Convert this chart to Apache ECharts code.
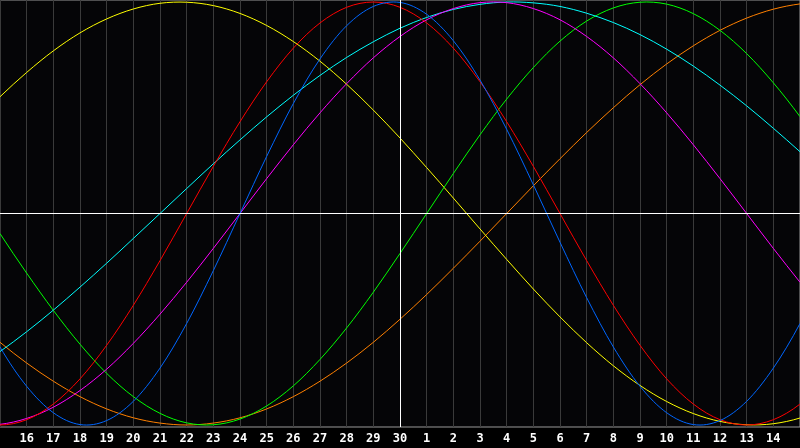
<!DOCTYPE html>
<html>
<head>
<meta charset="utf-8">
<script src="https://cdn.jsdelivr.net/npm/echarts@6/dist/echarts.min.js"></script>
<style>
html,body{margin:0;padding:0;background:#000;}
#chart{width:800px;height:448px;}
</style>
</head>
<body>
<div id="chart"></div>
<script>
// one sample per day, day positions 0..30
const dayLabels = ['16','17','18','19','20','21','22','23','24','25','26','27','28','29','30',
  '1','2','3','4','5','6','7','8','9','10','11','12','13','14'];

const physical     = [-63.1,-81.7,-94.2,-99.8,-97.9,-88.8,-73.1,-52.0,-27.0,0,27.0,52.0,73.1,88.8,97.9,99.8,94.2,81.7,63.1,39.8,13.6,-13.6,-39.8,-63.1,-81.7,-94.2,-99.8,-97.9,-88.8,-73.1,-52.0];
const emotional    = [-100,-97.5,-90.1,-78.2,-62.3,-43.4,-22.3,0,22.3,43.4,62.3,78.2,90.1,97.5,100,97.5,90.1,78.2,62.3,43.4,22.3,0,-22.3,-43.4,-62.3,-78.2,-90.1,-97.5,-100,-97.5,-90.1];
const intellectual = [-9.5,-28.2,-45.8,-61.8,-75.6,-86.6,-94.5,-99.0,-99.9,-97.2,-91.0,-81.5,-69.0,-54.1,-37.2,-18.9,0,18.9,37.2,54.1,69.0,81.5,91.0,97.2,99.9,99.0,94.5,86.6,75.6,61.8,45.8];
const intuitive    = [-99.7,-96.9,-91.6,-83.7,-73.6,-61.4,-47.6,-32.5,-16.5,0,16.5,32.5,47.6,61.4,73.6,83.7,91.6,96.9,99.7,99.7,96.9,91.6,83.7,73.6,61.4,47.6,32.5,16.5,0,-16.5,-32.5];
const aesthetic    = [55.2,66.7,76.9,85.4,92.0,96.7,99.4,99.9,98.3,94.6,88.9,81.3,72.0,61.1,48.9,35.7,21.7,7.3,-7.3,-21.7,-35.7,-48.9,-61.1,-72.0,-81.3,-88.9,-94.6,-98.3,-99.9,-99.4,-96.7];
const awareness    = [-60.9,-70.7,-79.3,-86.6,-92.4,-96.6,-99.1,-100,-99.1,-96.6,-92.4,-86.6,-79.3,-70.7,-60.9,-50.0,-38.3,-25.9,-13.1,0,13.1,25.9,38.3,50.0,60.9,70.7,79.3,86.6,92.4,96.6,99.1];
const spiritual    = [-65.3,-55.9,-45.7,-34.8,-23.5,-11.8,0,11.8,23.5,34.8,45.7,55.9,65.3,73.8,81.2,87.6,92.7,96.5,98.9,100.0,99.6,97.9,94.7,90.3,84.6,77.7,69.7,60.7,50.9,40.3,29.2];

const seriesDefs = [
  {name:'awareness', data:awareness, color:'#ff8000'},
  {name:'aesthetic', data:aesthetic, color:'#ffff00'},
  {name:'intellectual', data:intellectual, color:'#00ff00'},
  {name:'spiritual', data:spiritual, color:'#00ffff'},
  {name:'intuitive', data:intuitive, color:'#ff00ff'},
  {name:'emotional', data:emotional, color:'#ff0000'},
  {name:'physical', data:physical, color:'#0066ff'}
];

// Smooth curve through the data points (cubic Hermite / Catmull-Rom), positioned via the axes
function makeRender(values, color) {
  return function (params, api) {
    if (params.dataIndex !== 0) return null;
    const p = values.map((v, i) => api.coord([i, v]));
    const n = p.length;
    const m = p.map((pt, i) => {
      if (i === 0) return [(-3 * p[0][0] + 4 * p[1][0] - p[2][0]) / 2, (-3 * p[0][1] + 4 * p[1][1] - p[2][1]) / 2];
      if (i === n - 1) return [(3 * p[n-1][0] - 4 * p[n-2][0] + p[n-3][0]) / 2, (3 * p[n-1][1] - 4 * p[n-2][1] + p[n-3][1]) / 2];
      return [(p[i+1][0] - p[i-1][0]) / 2, (p[i+1][1] - p[i-1][1]) / 2];
    });
    let d = 'M' + p[0][0] + ' ' + p[0][1];
    for (let i = 0; i < n - 1; i++) {
      const c1 = [p[i][0] + m[i][0] / 3, p[i][1] + m[i][1] / 3];
      const c2 = [p[i+1][0] - m[i+1][0] / 3, p[i+1][1] - m[i+1][1] / 3];
      d += 'C' + c1[0] + ' ' + c1[1] + ' ' + c2[0] + ' ' + c2[1] + ' ' + p[i+1][0] + ' ' + p[i+1][1];
    }
    return {type: 'path', shape: {pathData: d}, style: {stroke: color, fill: 'none', lineWidth: 1}};
  };
}

const chart = echarts.init(document.getElementById('chart'));
const series = [{
  type: 'line',
  data: [],
  silent: true,
  z: 1,
  markLine: {
    silent: true,
    symbol: 'none',
    label: {show: false},
    lineStyle: {color: '#ffffff', width: 1, type: 'solid'},
    data: [{xAxis: 15}, {yAxis: 0}]
  }
}];
seriesDefs.forEach(s => {
  series.push({
    name: s.name,
    type: 'custom',
    silent: true,
    z: 3,
    clip: true,
    data: s.data.map((v, i) => [i, v]),
    encode: {x: 0, y: 1},
    renderItem: makeRender(s.data, s.color)
  });
});

chart.setOption({
  backgroundColor: '#000000',
  animation: false,
  grid: {left: 0, right: 0, top: 0, bottom: 21, show: true, backgroundColor: '#050507', borderColor: '#9a9a9a', borderWidth: 1},
  xAxis: {
    type: 'value', min: 0, max: 30, interval: 1,
    axisLine: {show: false},
    axisTick: {show: false},
    splitLine: {show: true, lineStyle: {color: '#3a3a3a', width: 1}},
    axisLabel: {
      color: '#ffffff', fontFamily: 'DejaVu Sans Mono', fontWeight: 'bold', fontSize: 12, margin: 6,
      showMinLabel: false, showMaxLabel: false,
      formatter: v => (v >= 1 && v <= 29) ? dayLabels[v - 1] : ''
    }
  },
  yAxis: {
    type: 'value', min: -100.95, max: 100.95,
    show: false,
    splitLine: {show: false}
  },
  series: series
});
</script>
</body>
</html>
